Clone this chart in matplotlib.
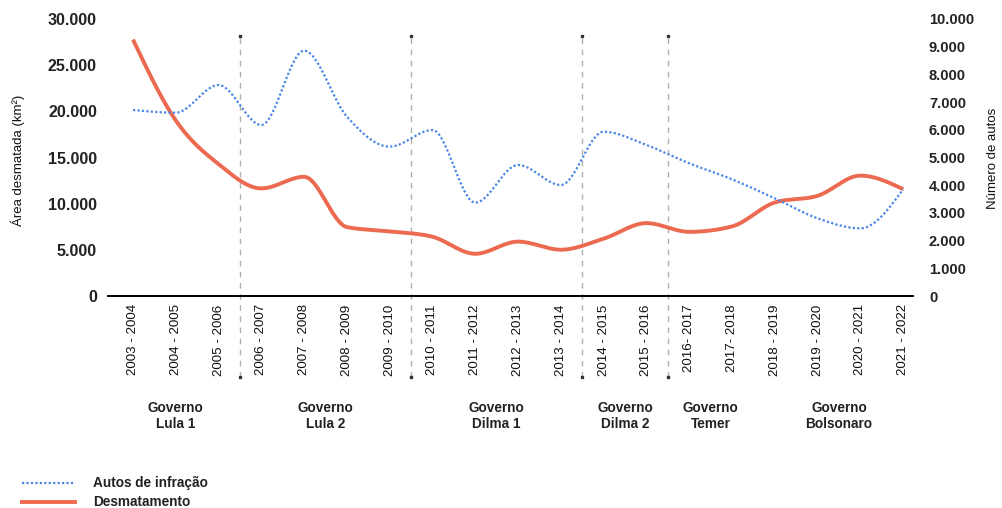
import matplotlib.pyplot as plt
import numpy as np

# periodos (PRODES) e series
periodos = ['2003 - 2004', '2004 - 2005', '2005 - 2006', '2006 - 2007', '2007 - 2008',
            '2008 - 2009', '2009 - 2010', '2010 - 2011', '2011 - 2012', '2012 - 2013',
            '2013 - 2014', '2014 - 2015', '2015 - 2016', '2016- 2017', '2017- 2018',
            '2018 - 2019', '2019 - 2020', '2020 - 2021', '2021 - 2022']
desmatamento = [27772, 19014, 14286, 11651, 12911, 7464, 7000, 6418, 4571, 5891,
                5012, 6207, 7893, 6947, 7536, 10129, 10851, 13038, 11568]
autos = [6715, 6617, 7617, 6173, 8856, 6474, 5391, 5993, 3369, 4729,
         4007, 5932, 5451, 4790, 4212, 3526, 2805, 2443, 3851]

governos = ['Governo\nLula 1', 'Governo\nLula 2', 'Governo\nDilma 1',
            'Governo\nDilma 2', 'Governo\nTemer', 'Governo\nBolsonaro']
gov_inicio = [0, 3, 7, 11, 13, 15]
gov_fim = [2, 6, 10, 12, 14, 18]

left_ticks = [0, 5000, 10000, 15000, 20000, 25000, 30000]
right_ticks = [0, 1000, 2000, 3000, 4000, 5000, 6000, 7000, 8000, 9000, 10000]

RED = '#ec6a4f'
BLUE = '#4a86e8'
FONT = 'Liberation Sans'
plt.rcParams['font.family'] = [FONT, 'DejaVu Sans']


def monotone(y, n=30):
    # curva monotona tipo d3.curveMonotoneX
    y = np.asarray(y, dtype=float)
    x = np.arange(len(y), dtype=float)
    s = np.diff(y)
    t = np.zeros(len(y))
    for i in range(1, len(y) - 1):
        s0, s1 = s[i - 1], s[i]
        p = (s0 + s1) / 2
        t[i] = (np.sign(s0) + np.sign(s1)) * min(abs(s0), abs(s1), 0.5 * abs(p))
    t[0] = (3 * s[0] - t[1]) / 2
    t[-1] = (3 * s[-1] - t[-2]) / 2
    xs, ys = [], []
    for i in range(len(y) - 1):
        u = np.linspace(0, 1, n, endpoint=(i == len(y) - 2))
        h00 = 2 * u**3 - 3 * u**2 + 1
        h10 = u**3 - 2 * u**2 + u
        h01 = -2 * u**3 + 3 * u**2
        h11 = u**3 - u**2
        xs.append(x[i] + u)
        ys.append(h00 * y[i] + h10 * t[i] + h01 * y[i + 1] + h11 * t[i + 1])
    return np.concatenate(xs), np.concatenate(ys)


fig = plt.figure(figsize=(10.02, 5.08), dpi=100)
ax = fig.add_axes([108 / 1002, 1 - 296 / 508, 805 / 1002, 277 / 508])
ax2 = ax.twinx()

ax.set_xlim(-0.584, 18.23)
ax.set_ylim(0, 30000)
ax2.set_ylim(0, 10000)

# linhas de governo
for b in [2.5, 6.5, 10.5, 12.5]:
    ax.plot([b, b], [-8800, 28150], ls=(0, (4, 4)), color='#b0b0b0', lw=1, clip_on=False, zorder=1)
    ax.plot([b], [28150], marker='s', ms=1.5, color='#333333', clip_on=False)
    ax.plot([b], [-8800], marker='s', ms=1.5, color='#333333', clip_on=False)

xa, ya = monotone(autos)
ax2.plot(xa, ya, color=BLUE, lw=1.6, ls=(0, (1, 1)), zorder=3)
xd, yd = monotone(desmatamento)
ax.plot(xd, yd, color=RED, lw=2.8, solid_capstyle='butt', zorder=4)

for a in (ax, ax2):
    for sp in a.spines.values():
        sp.set_visible(False)
ax.spines['bottom'].set_visible(True)
ax.spines['bottom'].set_linewidth(1.4)
ax.spines['bottom'].set_color('black')

ax.set_xticks(range(len(periodos)))
ax.set_xticklabels(periodos, rotation=90, fontsize=9.6, color='#111111')
ax.tick_params(axis='x', length=0, pad=6)

ax.set_yticks(left_ticks)
ax.set_yticklabels([f'{v:,}'.replace(',', '.') for v in left_ticks],
                   fontsize=11.5, fontweight='bold', color='#222222')
ax.tick_params(axis='y', length=0, pad=8)
ax2.set_yticks(right_ticks)
ax2.set_yticklabels([f'{v:,}'.replace(',', '.') for v in right_ticks],
                    fontsize=10.5, fontweight='bold', color='#222222')
ax2.tick_params(axis='y', length=0, pad=11.5)

fig.text(18 / 1002, 1 - 160 / 508, 'Área desmatada (km²)', rotation=90,
         ha='center', va='center', fontsize=9.5, color='#111111')
fig.text(993 / 1002, 1 - 158 / 508, 'Número de autos', rotation=90,
         ha='center', va='center', fontsize=9.5, color='#111111')

# rotulos dos governos
for nome, i0, i1 in zip(governos, gov_inicio, gov_fim):
    ax.text((i0 + i1) / 2, -13000, nome, ha='center', va='center', fontsize=9.8,
            fontweight='bold', color='#222222', linespacing=1.1, clip_on=False)

# legenda
fig.lines.append(plt.Line2D([22 / 1002, 75 / 1002], [1 - 483 / 508] * 2, color=BLUE,
                            lw=1.6, ls=(0, (1, 1)), transform=fig.transFigure))
fig.lines.append(plt.Line2D([22 / 1002, 75 / 1002], [1 - 502 / 508] * 2, color=RED,
                            lw=2.8, transform=fig.transFigure))
fig.text(93 / 1002, 1 - 483 / 508, 'Autos de infração', va='center', fontsize=9.8,
         fontweight='bold', color='#222222')
fig.text(93 / 1002, 1 - 502 / 508, 'Desmatamento', va='center', fontsize=9.8,
         fontweight='bold', color='#222222')

fig.savefig('out.png', dpi=100)
